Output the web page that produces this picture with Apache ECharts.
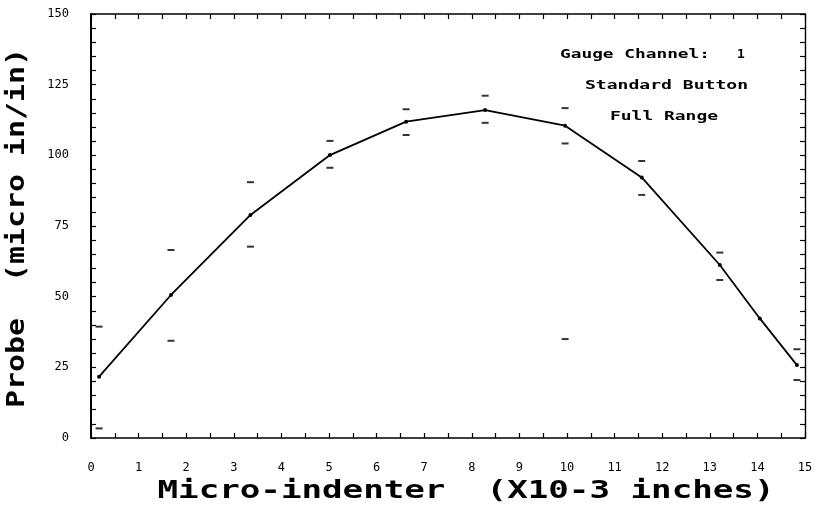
<!DOCTYPE html>
<html><head><meta charset="utf-8">
<script src="https://cdn.jsdelivr.net/npm/echarts@6/dist/echarts.min.js"></script>
<style>html,body{margin:0;padding:0;background:#fff}#c{width:820px;height:523px}</style>
</head><body><div id="c"></div>
<script>
// ---- data ----
const indenter = [0.17, 1.68, 3.35, 5.02, 6.62, 8.28, 9.96, 11.57, 13.21, 14.05, 14.83];
const probe    = [21.7, 50.6, 78.9, 100.1, 111.9, 116.0, 110.5, 92.2, 61.2, 42.3, 25.8];
const probeHigh = [39.4, 66.5, 90.5, 105.1, 116.3, 121.1, 116.7, 98.0, 65.6, null, 31.4];
const probeLow  = [3.4, 34.4, 67.7, 95.6, 107.2, 111.5, 104.2, 86.0, 55.9, null, 20.5];
const strayX = [9.96];
const strayY = [35.0];
const xTickLabels = [0,1,2,3,4,5,6,7,8,9,10,11,12,13,14,15];
const yTickLabels = [0,25,50,75,100,125,150];
const xTitle = 'Micro-indenter  (X10-3 inches)';
const yTitle = 'Probe  (micro in/in)';
const notes = ['Gauge Channel:', '1', 'Standard Button', 'Full Range'];

const lineData = indenter.map((x, i) => [x, probe[i]]);
const dashData = [];
indenter.forEach((x, i) => {
  if (probeHigh[i] != null) dashData.push([x, probeHigh[i]]);
  if (probeLow[i] != null) dashData.push([x, probeLow[i]]);
});
strayX.forEach((x, i) => dashData.push([x, strayY[i]]));

const cv = document.createElement('canvas').getContext('2d');
function sx(text, font, w) { cv.font = font; return w / cv.measureText(text).width; }

const titleFont = 'bold 24px "DejaVu Sans Mono"';
const noteFont = 'bold 13px "DejaVu Sans Mono"';
function txt(text, x, y, font, w, rot, align) {
  const s = w ? sx(text, font, w) : 1;
  return {
    type: 'text', x: x, y: y, rotation: rot || 0, scaleX: s, scaleY: 1,
    style: { text: text, font: font, fill: '#000',
      align: align || 'center', textAlign: align || 'center',
      verticalAlign: 'middle', textVerticalAlign: 'middle' }
  };
}

function tick() { return { show: true, inside: true, length: 5, lineStyle: { color: '#000', width: 1.2 } }; }
function line(w) { return { show: true, onZero: false, lineStyle: { color: '#000', width: w } }; }
const labelFont = { fontFamily: 'DejaVu Sans Mono', fontSize: 12, color: '#000' };

const chart = echarts.init(document.getElementById('c'), null, { renderer: 'canvas' });
chart.setOption({
  backgroundColor: '#fff',
  animation: false,
  grid: { left: 91, right: 15, top: 14, bottom: 85 },
  xAxis: [
    { type: 'value', min: 0, max: 15, interval: 0.5, position: 'bottom',
      axisLine: line(1.6), axisTick: tick(),
      splitLine: { show: false },
      axisLabel: Object.assign({ margin: 24, showMinLabel: true, showMaxLabel: true,
        formatter: v => xTickLabels.indexOf(v) >= 0 ? String(v) : '' }, labelFont) },
    { type: 'value', min: 0, max: 15, interval: 0.5, position: 'top',
      axisLine: line(1.6), axisTick: tick(),
      splitLine: { show: false }, axisLabel: { show: false } }
  ],
  yAxis: [
    { type: 'value', min: 0, max: 150, interval: 5, position: 'left',
      axisLine: line(2), axisTick: tick(),
      splitLine: { show: false },
      axisLabel: Object.assign({ margin: 22, showMinLabel: true, showMaxLabel: true,
        formatter: v => yTickLabels.indexOf(v) >= 0 ? String(v) : '' }, labelFont) },
    { type: 'value', min: 0, max: 150, interval: 5, position: 'right',
      axisLine: line(1.4), axisTick: tick(),
      splitLine: { show: false }, axisLabel: { show: false } }
  ],
  series: [
    { type: 'line', xAxisIndex: 0, yAxisIndex: 0, data: lineData,
      symbol: 'circle', symbolSize: 4, showSymbol: true,
      lineStyle: { color: '#000', width: 1.8 }, itemStyle: { color: '#000' } },
    { type: 'scatter', xAxisIndex: 0, yAxisIndex: 0, data: dashData,
      symbol: 'rect', symbolSize: [7, 2], itemStyle: { color: '#000' } }
  ],
  graphic: [
    txt(xTitle, 466, 492, titleFont, 617),
    txt(yTitle, 18, 228, titleFont, 360, Math.PI / 2),
    txt(notes[0], 560, 55, noteFont, 150, 0, 'left'),
    txt(notes[1], 741, 55, noteFont, 0),
    txt(notes[2], 585, 86, noteFont, 163, 0, 'left'),
    txt(notes[3], 610, 117, noteFont, 108, 0, 'left')
  ]
});
</script>
</body></html>
